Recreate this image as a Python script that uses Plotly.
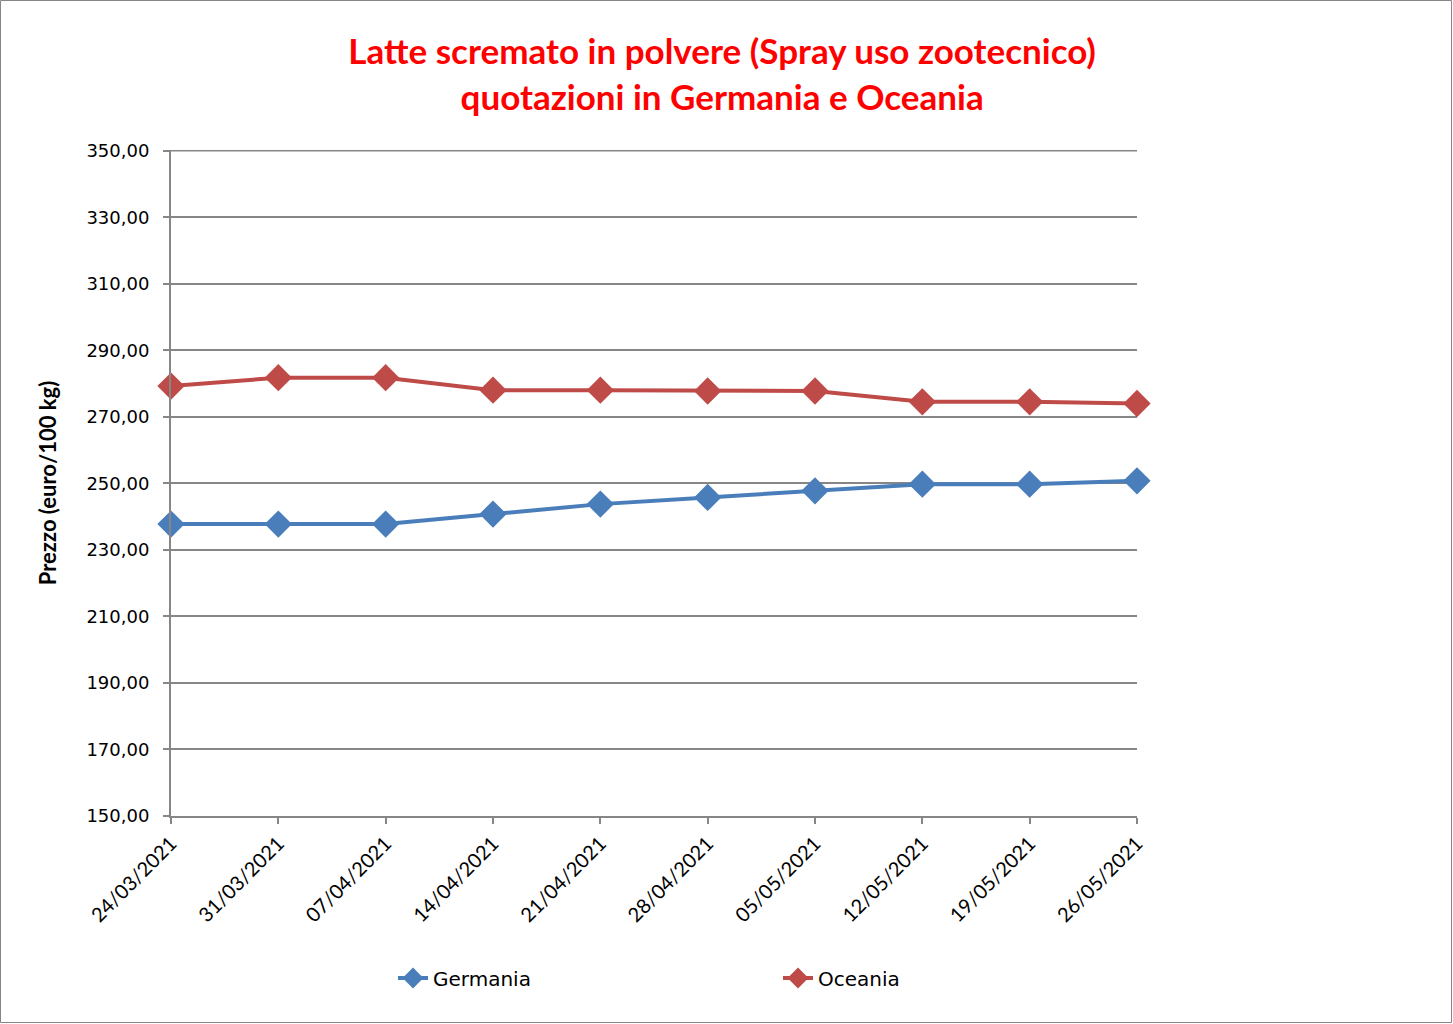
import plotly.graph_objects as go

dates = ["24/03/2021", "31/03/2021", "07/04/2021", "14/04/2021", "21/04/2021",
         "28/04/2021", "05/05/2021", "12/05/2021", "19/05/2021", "26/05/2021"]
germania = [237.75, 237.75, 237.75, 240.75, 243.75, 245.75, 247.75, 249.75, 249.75, 250.75]
oceania = [279.25, 281.75, 281.75, 278.0, 278.0, 277.75, 277.75, 274.5, 274.5, 274.0]
y_ticks = [150, 170, 190, 210, 230, 250, 270, 290, 310, 330, 350]

W, H = 1453, 1024
ML, MR, MT, MB = 171, 316, 150, 208
PW, PH = W - ML - MR, H - MT - MB
GRID = "#868686"

fig = go.Figure()
fig.add_trace(go.Scatter(
    x=dates, y=germania, name="Germania", mode="lines+markers",
    line=dict(color="#4a7ebb", width=4),
    marker=dict(symbol="diamond", size=21, color="#4a7ebb"),
    cliponaxis=False))
fig.add_trace(go.Scatter(
    x=dates, y=oceania, name="Oceania", mode="lines+markers",
    line=dict(color="#be4b48", width=4),
    marker=dict(symbol="diamond", size=21, color="#be4b48"),
    cliponaxis=False))

fig.update_layout(
    width=W, height=H,
    margin=dict(l=ML, r=MR, t=MT, b=MB, autoexpand=False),
    paper_bgcolor="white", plot_bgcolor="white",
    separators=",.",
    title=dict(
        text="<b>Latte scremato in polvere (Spray uso zootecnico)<br>quotazioni in Germania e Oceania</b>",
        font=dict(family="Lato", size=35, color="#ff0000"),
        x=0.497, xref="container", xanchor="center",
        y=1 - 64 / H, yref="container", yanchor="top"),
    showlegend=True,
    legend=dict(orientation="h", x=(393 - ML) / PW, xanchor="left",
                y=-(978 - MT - PH) / PH, yanchor="middle", yref="paper",
                entrywidth=340, entrywidthmode="pixels",
                font=dict(family="DejaVu Sans", size=20, color="black"),
                bgcolor="rgba(0,0,0,0)"),
    shapes=[
        dict(type="rect", xref="paper", yref="paper",
             x0=-(ML - 0.5) / PW, x1=1 + (MR - 1.5) / PW,
             y0=-(MB - 1.5) / PH, y1=1 + (MT - 0.5) / PH,
             line=dict(color=GRID, width=1), fillcolor="rgba(0,0,0,0)",
             layer="below"),
        dict(type="line", xref="paper", yref="y", x0=0, x1=1,
             y0=y_ticks[-1], y1=y_ticks[-1],
             line=dict(color=GRID, width=1.5), layer="below"),
    ],
)

fig.update_xaxes(
    type="category", range=[0, len(dates) - 1],
    showline=True, linecolor=GRID, linewidth=2,
    ticks="outside", ticklen=6, tickcolor=GRID, tickwidth=2,
    tickangle=-45, showgrid=False, zeroline=False,
    tickfont=dict(family="Lato", size=20, color="black"))
fig.update_yaxes(
    range=[150, 350.2], tickvals=y_ticks, tickformat=".2f",
    showline=True, linecolor=GRID, linewidth=2,
    ticks="outside", ticklen=6, tickcolor=GRID, tickwidth=2,
    ticklabelstandoff=10,
    showgrid=True, gridcolor=GRID, gridwidth=1.5, zeroline=False,
    tickfont=dict(family="DejaVu Sans", size=18, color="black"),
    title=dict(text="<b>Prezzo (euro/100 kg)</b>", standoff=24,
               font=dict(family="Lato", size=22, color="black")))

fig.write_html("out.html", config={"displayModeBar": False},
               post_script="document.body.style.margin='0';document.body.style.padding='0';")
